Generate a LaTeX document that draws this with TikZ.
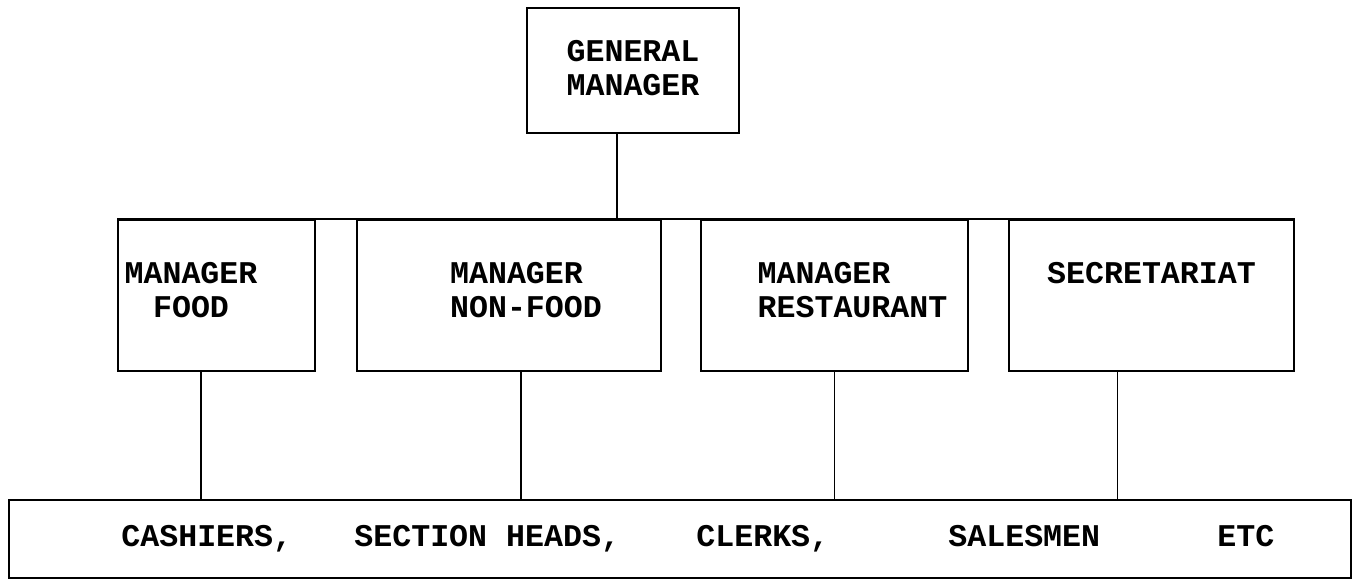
\documentclass[tikz,border=0pt]{standalone}
\usepackage{fontspec}
\setmonofont{Liberation Mono}
\usepackage{tikz}
\usetikzlibrary{
  positioning,  % Function "of" (e.g. [right=of x])
  calc          % Calculations $...$
}
\tikzset{
  font=\fontsize{18}{19}\selectfont\ttfamily\bfseries,
  my box/.style={
    draw,
    line width=1.1pt,
    rectangle,
    inner sep=0mm,
    minimum height=3.02cm
  },
  my text/.style={
    inner sep=0mm,
    align=left
  },
  my link/.style={
    line width=0.6pt
  }
}

\begin{document}
\begin{tikzpicture}[x=0.02cm,y=-0.02cm]
\useasboundingbox (0,0) rectangle (1354,580);
% top
\node[my box,minimum width=4.24cm,minimum height=2.5cm] (gm) at (633,70.5) {};
\node[my text,align=center] (gmtext) at ([yshift=0.05cm]gm.center) {GENERAL\\MANAGER};
% managers row
\node[my box,minimum width=3.94cm] (food) at (216.5,295.5) {};
\node[my box,minimum width=6.08cm] (nonfood) at (509,295.5) {};
\node[my box,minimum width=5.34cm] (rest) at (834.5,295.5) {};
\node[my box,minimum width=5.70cm] (sec) at (1151.5,295.5) {};
\node[my text,align=center] (foodtext) at ([xshift=-0.51cm,yshift=0.11cm]food.center) {MANAGER\\FOOD};
\node[my text] (nonfoodtext) at ([xshift=0.34cm,yshift=0.11cm]nonfood.center) {MANAGER\\NON-FOOD};
\node[my text] (resttext) at ([xshift=0.36cm,yshift=0.11cm]rest.center) {MANAGER\\RESTAURANT};
\node[my text] (sectext) at ([yshift=0.45cm]sec.center) {SECRETARIAT};
\draw[line width=1.1pt] (food.north west) -- (sec.north east);
% staff
\node[my box,minimum width=26.84cm,minimum height=1.56cm] (staff) at (680,539) {};
\node[my text,anchor=base west] (cashiers) at (121,546) {CASHIERS,};
\node[my text,anchor=base west] (heads) at (354,546) {SECTION HEADS,};
\node[my text,anchor=base west] (clerks) at (696,546) {CLERKS,};
\node[my text,anchor=base west] (salesmen) at (948,546) {SALESMEN};
\node[my text,anchor=base west] (etc) at (1217,546) {ETC};
% links
\draw[my link] ([xshift=-0.32cm]gm.south) -- ([xshift=-0.32cm]gm.south |- food.north);
\draw[my link] ([xshift=-0.31cm]food.south) -- ([xshift=-0.31cm]food.south |- staff.north);
\draw[my link] ([xshift=0.24cm]nonfood.south) -- ([xshift=0.24cm]nonfood.south |- staff.north);
\draw[my link] (rest.south) -- (rest.south |- staff.north);
\draw[my link] ([xshift=-0.69cm]sec.south) -- ([xshift=-0.69cm]sec.south |- staff.north);
\end{tikzpicture}
\end{document}
